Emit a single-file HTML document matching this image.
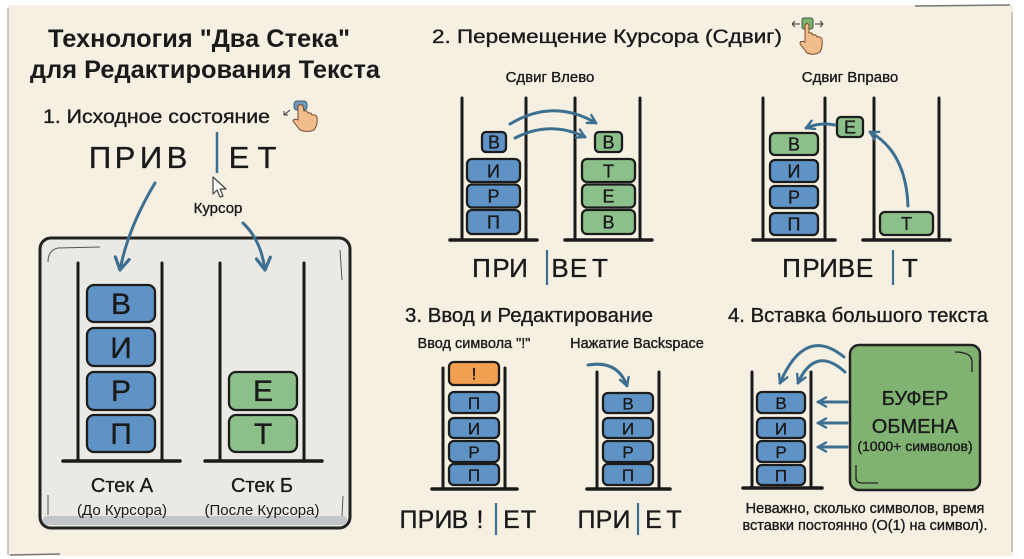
<!DOCTYPE html>
<html><head><meta charset="utf-8"><style>
html,body{margin:0;padding:0;background:#fff;}
svg{display:block;}
text{font-family:"Liberation Sans","DejaVu Sans",sans-serif;fill:#1a1a1a;}
.med{stroke:#1a1a1a;stroke-width:0.35;}
.blk{stroke:#1c1c1c;stroke-width:2.3;}
.bl{fill:#5f93c6;}
.gr{fill:#8cc08a;}
.or{fill:#f0a050;}
.pole{stroke:#1a1a1a;stroke-width:3;stroke-linecap:round;}
.base{stroke:#1a1a1a;stroke-width:3.5;stroke-linecap:round;}
.arr{fill:none;stroke:#3d6f91;stroke-width:3;stroke-linecap:round;}
</style></head><body>
<svg width="1024" height="559" viewBox="0 0 1024 559" xmlns="http://www.w3.org/2000/svg">
<defs>
<marker id="ah" viewBox="0 0 12 12" refX="10" refY="6" markerWidth="12" markerHeight="12" markerUnits="userSpaceOnUse" orient="auto"><path d="M2,1.5 L10,6 L2,10.5" fill="none" stroke="#3d6f91" stroke-width="2.4" stroke-linecap="round" stroke-linejoin="round"/></marker>
<marker id="ahb" viewBox="0 0 18 18" refX="15" refY="9" markerWidth="18" markerHeight="18" markerUnits="userSpaceOnUse" orient="auto"><path d="M3,2 L15,9 L3,16" fill="none" stroke="#3d6f91" stroke-width="3.2" stroke-linecap="round" stroke-linejoin="round"/></marker>
</defs>
<!-- paper -->
<rect x="8" y="5" width="1005" height="551" fill="#f6f0e2"/>
<path d="M8,8 L8,555" stroke="#9a9a9a" stroke-width="1"/>
<path d="M1012,12 L1012,552" stroke="#9a9a9a" stroke-width="1"/>
<path d="M10,555 L60,554" stroke="#777" stroke-width="1.5"/>
<path d="M915,6 L1010,5" stroke="#777" stroke-width="1.5"/>

<!-- Title -->
<text x="48" y="47" font-size="25" font-weight="bold" textLength="302" lengthAdjust="spacingAndGlyphs" fill="#222">Технология "Два Стека"</text>
<text x="30" y="78" font-size="25" font-weight="bold" textLength="350" lengthAdjust="spacingAndGlyphs" fill="#222">для Редактирования Текста</text>

<!-- Section 1 -->
<text class="med" x="43" y="123" font-size="19" textLength="227" lengthAdjust="spacingAndGlyphs">1. Исходное состояние</text>
<g>
<rect x="294" y="101" width="13" height="9" rx="3" fill="#6e98b8" stroke="#3d5f7a" stroke-width="1"/>
<path d="M298,106 L298,120 Q294,118 293,121 L300,130 Q307,133 314,130 Q318,125 317,117 Q315,114 312,115 Q311,112 308,113 Q307,110 304,111 L303,106 Q301,103 298,106 Z" fill="#f2bd8c" stroke="#7a4a2a" stroke-width="1"/>
<path d="M290,110 L284,115 M284,115 L284,111 M284,115 L288,115" stroke="#333" stroke-width="1" fill="none"/>
</g>

<g font-size="31" text-anchor="middle" class="med">
<text x="100" y="168">П</text><text x="125" y="168">Р</text><text x="151" y="168">И</text><text x="177" y="168">В</text>
<text x="239" y="168">Е</text><text x="267" y="168">Т</text>
</g>
<line x1="217" y1="132" x2="217" y2="173" stroke="#3d6f91" stroke-width="2.5"/>
<path d="M213,177 L213,194 L217,190 L220,197 L223,196 L220,189 L226,189 Z" fill="#fff" stroke="#444" stroke-width="1.2" stroke-linejoin="round"/>
<text class="med" x="218" y="213" font-size="15" text-anchor="middle">Курсор</text>

<!-- inner box -->
<rect x="40" y="238" width="310" height="290" rx="11" fill="#ebe9e3" stroke="#222" stroke-width="3"/>
<rect x="43" y="516" width="304" height="9" rx="4" fill="#c2c6c9"/>
<path d="M48,262 Q48,250 58,248 L100,247" fill="none" stroke="#555" stroke-width="1"/>
<path d="M340,250 L342,280" fill="none" stroke="#555" stroke-width="1"/>
<path d="M48,495 L48,515" fill="none" stroke="#555" stroke-width="1"/>
<path d="M343,496 L342,516" fill="none" stroke="#555" stroke-width="1"/>

<path class="arr" d="M155,183 Q128,228 120,270" marker-end="url(#ahb)"/>
<path class="arr" d="M243,223 Q261,240 265,270" marker-end="url(#ahb)"/>

<line class="pole" x1="78" y1="263" x2="78" y2="460"/>
<line class="pole" x1="162" y1="263" x2="162" y2="460"/>
<line class="base" x1="63" y1="461" x2="180" y2="461"/>
<rect class="blk bl" x="87" y="285" width="68" height="37" rx="7"/>
<rect class="blk bl" x="87" y="328" width="68" height="38" rx="7"/>
<rect class="blk bl" x="87" y="372" width="68" height="38" rx="7"/>
<rect class="blk bl" x="87" y="415" width="68" height="37" rx="7"/>
<g font-size="30" text-anchor="middle" class="med">
<text x="121" y="314">В</text><text x="121" y="358">И</text><text x="121" y="401">Р</text><text x="121" y="444">П</text>
</g>
<line class="pole" x1="220" y1="263" x2="220" y2="460"/>
<line class="pole" x1="304" y1="263" x2="304" y2="460"/>
<line class="base" x1="205" y1="461" x2="322" y2="461"/>
<rect class="blk gr" x="229" y="372" width="68" height="38" rx="7"/>
<rect class="blk gr" x="229" y="415" width="68" height="37" rx="7"/>
<g font-size="30" text-anchor="middle" class="med">
<text x="263" y="401">Е</text><text x="263" y="444">Т</text>
</g>
<text class="med" x="122" y="492" font-size="20" text-anchor="middle">Стек А</text>
<text x="122" y="515" font-size="15" text-anchor="middle">(До Курсора)</text>
<text class="med" x="262" y="492" font-size="20" text-anchor="middle">Стек Б</text>
<text x="262" y="515" font-size="15" text-anchor="middle">(После Курсора)</text>

<!-- Section 2 -->
<text class="med" x="432" y="43" font-size="19.5" textLength="350" lengthAdjust="spacingAndGlyphs">2. Перемещение Курсора (Сдвиг)</text>
<g>
<path d="M792,24 L800,24 M792,24 L795,21 M792,24 L795,27" stroke="#333" stroke-width="1" fill="none"/>
<path d="M815,24 L823,24 M823,24 L820,21 M823,24 L820,27" stroke="#333" stroke-width="1" fill="none"/>
<rect x="802" y="18" width="11" height="11" rx="2" fill="#7fb072" stroke="#3d5f3a" stroke-width="1"/>
<path d="M805,25 L805,42 Q800,40 800,44 L807,53 Q814,56 820,52 Q823,47 822,39 Q820,36 817,37 Q816,34 813,35 Q812,32 809,33 L809,25 Q807,22 805,25 Z" fill="#f2bd8c" stroke="#7a4a2a" stroke-width="1"/>
</g>
<text class="med" x="550" y="82" font-size="15" text-anchor="middle">Сдвиг Влево</text>
<text class="med" x="850" y="82" font-size="15" text-anchor="middle">Сдвиг Вправо</text>

<!-- shift left -->
<line class="pole" x1="462" y1="98" x2="462" y2="239"/>
<line class="pole" x1="526" y1="98" x2="526" y2="239"/>
<line class="base" x1="450" y1="240" x2="537" y2="240"/>
<rect class="blk bl" x="482" y="132" width="24" height="20" rx="4"/>
<rect class="blk bl" x="467" y="159" width="53" height="23" rx="5"/>
<rect class="blk bl" x="467" y="184.5" width="53" height="23" rx="5"/>
<rect class="blk bl" x="467" y="210" width="53" height="24" rx="5"/>
<g font-size="18" text-anchor="middle" class="med">
<text x="494" y="148.5">В</text><text x="493.5" y="177.5">И</text><text x="493.5" y="202.5">Р</text><text x="493.5" y="228.5">П</text>
</g>
<line class="pole" x1="575" y1="98" x2="575" y2="239"/>
<line class="pole" x1="640" y1="98" x2="640" y2="239"/>
<line class="base" x1="565" y1="240" x2="652" y2="240"/>
<rect class="blk gr" x="595" y="132" width="27" height="20" rx="4"/>
<rect class="blk gr" x="582" y="159" width="53" height="23" rx="5"/>
<rect class="blk gr" x="582" y="184.5" width="53" height="23" rx="5"/>
<rect class="blk gr" x="582" y="210" width="53" height="24" rx="5"/>
<g font-size="18" text-anchor="middle" class="med">
<text x="608.5" y="148.5">В</text><text x="608.5" y="177.5">Т</text><text x="608.5" y="202.5">Е</text><text x="608.5" y="228.5">В</text>
</g>
<path class="arr" d="M510,124 Q553,98 596,123" marker-end="url(#ah)"/>
<path class="arr" d="M515,138 Q550,120 585,137" marker-end="url(#ah)"/>
<g font-size="26" text-anchor="middle" class="med">
<text x="481.5" y="277">П</text><text x="501" y="277">Р</text><text x="518.5" y="277">И</text>
<text x="560" y="277">В</text><text x="578.5" y="277">Е</text><text x="600" y="277">Т</text>
</g>
<line x1="547" y1="250" x2="547" y2="285" stroke="#3d6f91" stroke-width="2.2"/>

<!-- shift right -->
<line class="pole" x1="763" y1="98" x2="763" y2="239"/>
<line class="pole" x1="825" y1="98" x2="825" y2="239"/>
<line class="base" x1="753" y1="240" x2="835" y2="240"/>
<rect class="blk gr" x="770" y="133" width="48" height="22" rx="5"/>
<rect class="blk bl" x="770" y="160" width="48" height="22" rx="5"/>
<rect class="blk bl" x="770" y="186" width="48" height="22" rx="5"/>
<rect class="blk bl" x="770" y="213" width="48" height="22" rx="5"/>
<g font-size="18" text-anchor="middle" class="med">
<text x="794" y="150.5">В</text><text x="794" y="177.5">И</text><text x="794" y="203.5">Р</text><text x="794" y="230.5">П</text>
</g>
<rect class="blk gr" x="837" y="117" width="26" height="20" rx="4"/>
<text class="med" x="850" y="133.5" font-size="18" text-anchor="middle">Е</text>
<path class="arr" d="M835,125 Q820,122 806,128" marker-end="url(#ah)"/>
<line class="pole" x1="874" y1="98" x2="874" y2="239"/>
<line class="pole" x1="939" y1="98" x2="939" y2="239"/>
<line class="base" x1="863" y1="240" x2="950" y2="240"/>
<rect class="blk gr" x="880" y="212" width="53" height="23" rx="5"/>
<text class="med" x="906.5" y="230" font-size="18" text-anchor="middle">Т</text>
<path class="arr" d="M908,206 Q906,152 870,132" marker-end="url(#ah)"/>
<g font-size="26" text-anchor="middle" class="med">
<text x="791.5" y="277">П</text><text x="811" y="277">Р</text><text x="828.5" y="277">И</text>
<text x="846.5" y="277">В</text><text x="864.5" y="277">Е</text><text x="910" y="277">Т</text>
</g>
<line x1="893" y1="250" x2="893" y2="285" stroke="#3d6f91" stroke-width="2.2"/>

<!-- Section 3 -->
<text class="med" x="405" y="322" font-size="20" textLength="248" lengthAdjust="spacingAndGlyphs">3. Ввод и Редактирование</text>
<text class="med" x="474" y="348" font-size="14.5" text-anchor="middle">Ввод символа "!"</text>
<text class="med" x="637" y="348" font-size="14.5" text-anchor="middle">Нажатие Backspace</text>

<line class="pole" x1="443" y1="368" x2="443" y2="488"/>
<line class="pole" x1="505" y1="368" x2="505" y2="488"/>
<line class="base" x1="432" y1="489" x2="517" y2="489"/>
<rect class="blk or" x="449" y="362" width="50" height="23" rx="5"/>
<rect class="blk bl" x="449" y="392" width="50" height="21" rx="5"/>
<rect class="blk bl" x="449" y="418" width="50" height="20" rx="5"/>
<rect class="blk bl" x="449" y="441" width="50" height="21" rx="5"/>
<rect class="blk bl" x="449" y="464" width="50" height="21" rx="5"/>
<g font-size="17" text-anchor="middle" class="med">
<text x="474" y="379.5">!</text><text x="474" y="409">П</text><text x="474" y="434.5">И</text><text x="474" y="458">Р</text><text x="474" y="481">П</text>
</g>
<line class="pole" x1="597" y1="372" x2="597" y2="488"/>
<line class="pole" x1="659" y1="372" x2="659" y2="488"/>
<line class="base" x1="587" y1="489" x2="670" y2="489"/>
<rect class="blk bl" x="603" y="393" width="50" height="20" rx="5"/>
<rect class="blk bl" x="603" y="418" width="50" height="20" rx="5"/>
<rect class="blk bl" x="603" y="441" width="50" height="21" rx="5"/>
<rect class="blk bl" x="603" y="464" width="50" height="21" rx="5"/>
<g font-size="17" text-anchor="middle" class="med">
<text x="628" y="409.5">В</text><text x="628" y="434.5">И</text><text x="628" y="458">Р</text><text x="628" y="481">П</text>
</g>
<path class="arr" d="M588,365 Q618,360 627,386" marker-end="url(#ah)"/>
<g font-size="25" text-anchor="middle" class="med">
<text x="408.5" y="528">П</text><text x="426" y="528">Р</text><text x="443.5" y="528">И</text><text x="460" y="528">В</text><text x="480" y="528">!</text>
<text x="511.5" y="528">Е</text><text x="528.5" y="528">Т</text>
<text x="586.5" y="528">П</text><text x="604" y="528">Р</text><text x="621.5" y="528">И</text>
<text x="653.5" y="528">Е</text><text x="674" y="528">Т</text>
</g>
<line x1="496" y1="503" x2="496" y2="535" stroke="#3d6f91" stroke-width="2.2"/>
<line x1="638" y1="503" x2="638" y2="535" stroke="#3d6f91" stroke-width="2.2"/>

<!-- Section 4 -->
<text class="med" x="728" y="322" font-size="20" textLength="260" lengthAdjust="spacingAndGlyphs">4. Вставка большого текста</text>
<line class="pole" x1="752" y1="372" x2="752" y2="487"/>
<line class="pole" x1="811" y1="372" x2="811" y2="487"/>
<line class="base" x1="743" y1="488" x2="822" y2="488"/>
<rect class="blk bl" x="757" y="392" width="48" height="21" rx="5"/>
<rect class="blk bl" x="757" y="418" width="48" height="20" rx="5"/>
<rect class="blk bl" x="757" y="441" width="48" height="21" rx="5"/>
<rect class="blk bl" x="757" y="465" width="48" height="20" rx="5"/>
<g font-size="17" text-anchor="middle" class="med">
<text x="781" y="409">В</text><text x="781" y="434.5">И</text><text x="781" y="458">Р</text><text x="781" y="481.5">П</text>
</g>
<rect x="850" y="345" width="130" height="145" rx="9" fill="#80b372" stroke="#222" stroke-width="2.5"/>
<path d="M955,352 Q972,352 972,362 L972,372" fill="none" stroke="#222" stroke-width="1.3"/>
<path d="M856,465 L856,478 Q856,483 862,483 L878,483" fill="none" stroke="#222" stroke-width="1.3"/>
<text class="med" x="915" y="405" font-size="20" text-anchor="middle">БУФЕР</text>
<text class="med" x="915" y="433" font-size="20" text-anchor="middle">ОБМЕНА</text>
<text class="med" x="915" y="451" font-size="14" text-anchor="middle">(1000+ символов)</text>
<path class="arr" d="M847,402 L818,402" marker-end="url(#ah)"/>
<path class="arr" d="M847,423 L818,423" marker-end="url(#ah)"/>
<path class="arr" d="M847,447 L818,447" marker-end="url(#ah)"/>
<path class="arr" d="M844,357 Q805,325 780,383" marker-end="url(#ah)"/>
<path class="arr" d="M845,372 Q815,345 798,383" marker-end="url(#ah)"/>
<text class="med" x="865" y="513" font-size="14.5" text-anchor="middle">Неважно, сколько символов, время</text>
<text class="med" x="865" y="530" font-size="14.5" text-anchor="middle">вставки постоянно (O(1) на символ).</text>
</svg>
</body></html>
